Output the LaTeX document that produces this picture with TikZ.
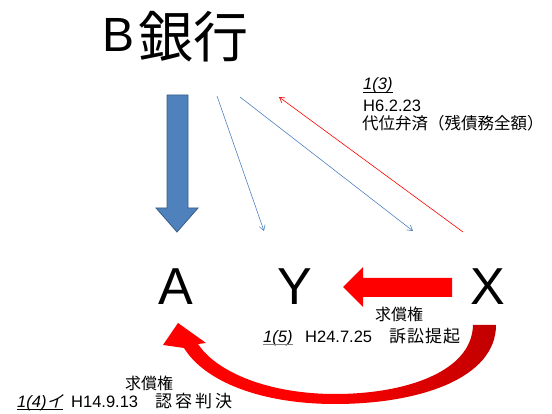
\documentclass[tikz,border=0pt]{standalone}
\usepackage{fontspec}
\setmainfont{Noto Sans CJK JP}
\newfontfamily\lat{Liberation Sans}
\newfontfamily\jpsl[FakeSlant=0.25]{Noto Sans CJK JP}
\usetikzlibrary{arrows.meta}
\definecolor{ablue}{HTML}{4F81BD}
\definecolor{dblue}{HTML}{385D8A}
\definecolor{dred}{HTML}{C00000}
\tikzset{
  big/.style={inner sep=0pt, anchor=base, font=\lat\fontsize{52}{52}\selectfont},
  lbl/.style={inner sep=0pt, anchor=base west, font=\fontsize{17}{17}\selectfont},
  latlbl/.style={inner sep=0pt, anchor=base west, font=\lat\fontsize{16.5}{17}\selectfont},
  thin/.style={line width=0.6pt, -{Straight Barb[length=5pt,width=6pt]}},
  uline/.style={line width=0.7pt},
}
\begin{document}
\begin{tikzpicture}[x=1pt,y=-1pt]
\useasboundingbox (0,0) rectangle (552,414);
% title
\node[inner sep=0pt, font=\lat\fontsize{48}{48}\selectfont] (bankB) at (119,35) {B};
\node[inner sep=0pt, font=\fontsize{55}{55}\selectfont] (bank) at (193,37) {銀行};
% parties
\node[big] (A) at (176,305) {A};
\node[big] (Y) at (295,305) {Y};
\node[big] (X) at (487.5,305) {X};
% big blue arrow
\fill[ablue, draw=dblue, line width=0.8pt] (167,95) -- (188,95) -- (188,208) -- (198,208) -- (177,232) -- (156,208) -- (167,208) -- cycle;
% thin arrows
\coordinate (b1) at (217,96);
\coordinate (y1) at (264,231);
\coordinate (b2) at (240,97);
\coordinate (x1) at (413,231);
\coordinate (x2) at (463,232);
\coordinate (b3) at (279,97);
\draw[thin, ablue] (b1) -- (y1);
\draw[thin, ablue] (b2) -- (x1);
\draw[thin, red] (x2) -- (b3);
% red block arrow X -> Y
\fill[red] (452,278) -- (363,278) -- (363,267) -- (343,287) -- (363,307) -- (363,297) -- (452,297) -- cycle;
% curved arrow X -> A
\shade[left color=red, right color=dred, middle color=red]
  (496,325) .. controls (496,378) and (420,404) .. (335,404)
  .. controls (262,404) and (205,382) .. (184,348)
  -- (163,345) -- (178,323) -- (206,343) -- (198,344)
  .. controls (218,374) and (272,394) .. (335,394)
  .. controls (405,394) and (472,372) .. (473,325) -- cycle;
% labels: 1(3)
\node[latlbl] (l3a) at (363,90) {\itshape 1(3)};
\node[latlbl] (l3b) at (363,112) {H6.2.23};
\node[lbl, font=\fontsize{16.5}{17}\selectfont] (l3c) at (362,130) {代位弁済（残債務全額）};
% labels: 1(5)
\node[lbl, font=\fontsize{16}{16}\selectfont] (l5a) at (375,321) {求償権};
\node[latlbl] (l5b) at (263,342) {\itshape 1(5)};
\node[latlbl] (l5c) at (305,342) {H24.7.25};
\node[lbl] (l5d) at (389,342) {訴\hspace{1pt}訟\hspace{1pt}提\hspace{1pt}起};
% labels: 1(4)
\node[lbl, font=\fontsize{16}{16}\selectfont] (l4a) at (125,389) {求償権};
\node[latlbl] (l4b) at (17,407) {{\itshape 1(4)}{\jpsl イ}};
\node[latlbl] (l4c) at (71,407) {H14.9.13};
\node[lbl] (l4d) at (155,407) {認\hspace{3pt}容\hspace{3pt}判\hspace{3pt}決};
% underlines
\draw[uline] ([yshift=-2.5pt]l3a.base west) -- ([yshift=-2.5pt]l3a.base east);
\draw[uline, gray] ([yshift=-2.5pt]l5b.base west) -- ([yshift=-2.5pt]l5b.base east);
\draw[uline] ([yshift=-2.5pt]l4b.base west) -- ([yshift=-2.5pt]l4b.base east);
\end{tikzpicture}
\end{document}
